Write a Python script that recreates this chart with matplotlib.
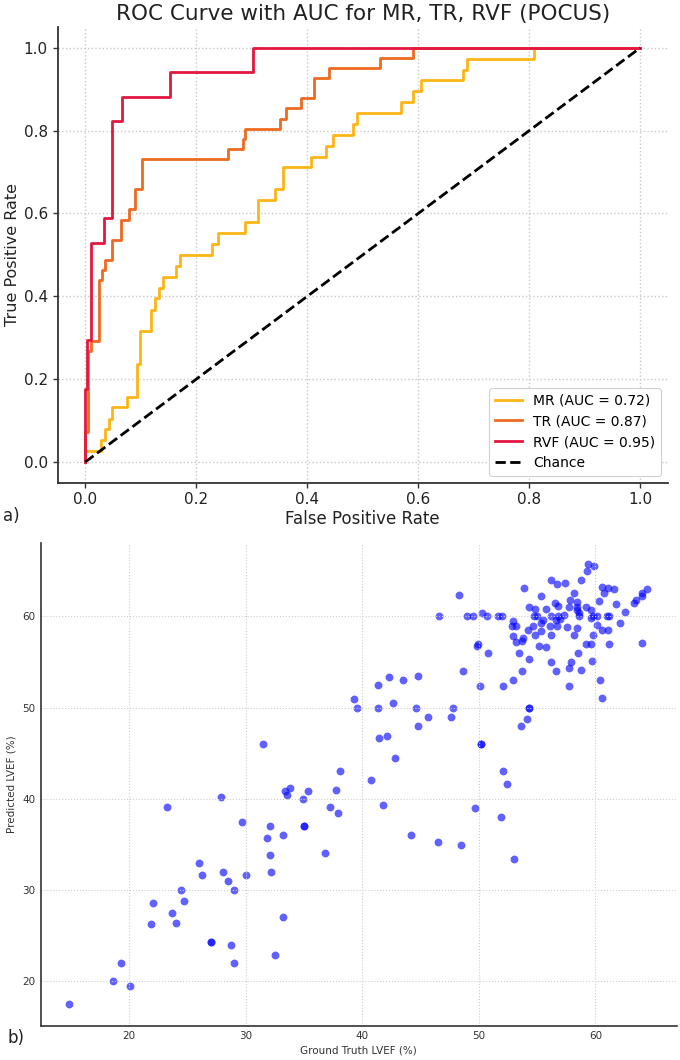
import numpy as np
import matplotlib.pyplot as plt

# ROC curves (corner points of the step curves)
mr_fpr = [0, 0, 0.028, 0.028, 0.036, 0.036, 0.043, 0.043, 0.048, 0.048, 0.076, 0.076,
          0.094, 0.094, 0.099, 0.099, 0.119, 0.119, 0.126, 0.126, 0.132, 0.132, 0.14, 0.14,
          0.164, 0.164, 0.17, 0.17, 0.229, 0.229, 0.24, 0.24, 0.287, 0.287, 0.311, 0.311,
          0.341, 0.341, 0.356, 0.356, 0.406, 0.406, 0.433, 0.433, 0.446, 0.446, 0.483, 0.483,
          0.489, 0.489, 0.568, 0.568, 0.591, 0.591, 0.605, 0.605, 0.681, 0.681, 0.688, 0.688,
          0.809, 0.809, 1.0]
mr_tpr = [0, 0.026, 0.026, 0.053, 0.053, 0.079, 0.079, 0.105, 0.105, 0.132, 0.132, 0.158,
          0.158, 0.237, 0.237, 0.316, 0.316, 0.368, 0.368, 0.395, 0.395, 0.421, 0.421, 0.447,
          0.447, 0.474, 0.474, 0.5, 0.5, 0.526, 0.526, 0.553, 0.553, 0.579, 0.579, 0.632,
          0.632, 0.658, 0.658, 0.711, 0.711, 0.737, 0.737, 0.763, 0.763, 0.789, 0.789, 0.816,
          0.816, 0.842, 0.842, 0.868, 0.868, 0.895, 0.895, 0.921, 0.921, 0.947, 0.947, 0.974,
          0.974, 1.0, 1.0]

tr_fpr = [0, 0, 0.005, 0.005, 0.01, 0.01, 0.025, 0.025, 0.031, 0.031, 0.036, 0.036,
          0.049, 0.049, 0.064, 0.064, 0.078, 0.078, 0.09, 0.09, 0.102, 0.102, 0.257, 0.257,
          0.284, 0.284, 0.287, 0.287, 0.35, 0.35, 0.362, 0.362, 0.388, 0.388, 0.413, 0.413,
          0.44, 0.44, 0.531, 0.531, 0.59, 0.59, 1.0]
tr_tpr = [0, 0.073, 0.073, 0.268, 0.268, 0.293, 0.293, 0.439, 0.439, 0.463, 0.463, 0.488,
          0.488, 0.537, 0.537, 0.585, 0.585, 0.61, 0.61, 0.659, 0.659, 0.732, 0.732, 0.756,
          0.756, 0.78, 0.78, 0.805, 0.805, 0.829, 0.829, 0.854, 0.854, 0.878, 0.878, 0.927,
          0.927, 0.951, 0.951, 0.976, 0.976, 1.0, 1.0]

rvf_fpr = [0, 0, 0.004, 0.004, 0.01, 0.01, 0.033, 0.033, 0.049, 0.049, 0.066, 0.066,
           0.152, 0.152, 0.303, 0.303, 1.0]
rvf_tpr = [0, 0.176, 0.176, 0.294, 0.294, 0.529, 0.529, 0.588, 0.588, 0.824, 0.824, 0.882,
           0.882, 0.941, 0.941, 1.0, 1.0]

roc_labels = ['MR (AUC = 0.72)', 'TR (AUC = 0.87)', 'RVF (AUC = 0.95)']
roc_colors = ['#FDB515', '#EE6A1F', '#E3173F']

# LVEF scatter: ground truth vs predicted
gt_lvef = [
    49.5, 50.3, 50.7, 51.6, 52.0, 53.9, 55.3, 56.2, 56.7, 57.4, 58.8, 59.4, 59.9, 59.3,
    60.6, 61.1, 61.6, 60.7, 60.3, 61.8, 62.5, 63.3, 63.5, 64.0, 64.0, 64.4, 64.0, 62.1,
    61.2, 61.0, 60.6, 61.1, 61.2, 60.1, 60.1, 59.8, 59.6, 59.6, 59.2, 59.8, 59.2, 59.6,
    59.7, 58.4, 58.4, 58.4, 58.2, 57.8, 57.7, 57.3, 56.8, 56.5, 55.8, 56.2, 56.8, 57.0,
    56.6, 56.7, 56.1, 55.5, 55.3, 55.0, 54.7, 54.3, 54.8, 58.6, 58.6, 57.6, 58.4, 58.2,
    56.2, 55.3, 54.6, 54.2, 54.8, 53.2, 52.8, 52.9, 52.9, 53.2, 53.7, 53.8, 55.2, 55.8,
    53.4, 54.3, 53.7, 52.9, 52.1, 50.1, 49.8, 49.9, 50.8, 56.2, 56.6, 57.9, 57.7, 58.5,
    58.8, 57.7, 60.4, 60.6,
    46.6, 48.3, 49.0, 48.6, 41.3, 42.3, 43.5, 44.8, 39.3, 39.5, 41.3, 42.6, 44.6, 45.6,
    44.8, 47.8, 47.6, 41.4, 42.1, 42.8, 50.2, 50.2, 52.1, 54.3, 54.3, 54.1, 53.6, 38.1,
    40.7, 31.5,
    14.8, 18.6, 19.3, 20.1, 21.9, 22.0, 23.2, 23.7, 24.0, 24.4, 24.7, 26.0, 26.2, 27.0,
    27.0, 27.9, 28.0, 28.5, 28.7, 29.0, 29.0, 29.7, 30.0, 31.8, 32.1, 32.1, 32.2, 32.5,
    33.2, 33.2, 33.4, 33.5, 33.8, 34.9, 35.0, 35.0, 35.3, 36.8, 37.2, 37.7, 37.9,
    41.8, 44.2, 46.5, 48.5, 49.7, 51.9, 52.4, 53.0,
]
pred_lvef = [
    60.0, 60.4, 60.0, 60.0, 60.0, 63.1, 62.2, 64.0, 63.6, 63.7, 64.0, 65.7, 65.5, 65.0,
    63.2, 63.1, 63.0, 62.6, 61.7, 61.4, 60.5, 61.5, 61.8, 62.2, 62.6, 63.0, 57.1, 59.3,
    60.1, 60.0, 58.5, 58.5, 57.0, 59.1, 60.0, 60.0, 59.8, 60.7, 61.0, 58.0, 57.0, 57.0,
    55.1, 61.6, 61.0, 60.7, 62.6, 61.8, 61.0, 60.2, 61.1, 61.5, 60.8, 60.1, 60.0, 59.7,
    59.6, 59.0, 59.0, 59.6, 59.3, 60.0, 60.0, 61.0, 60.8, 60.0, 60.4, 58.8, 58.7, 58.0,
    58.0, 58.4, 58.9, 58.5, 58.0, 59.0, 59.0, 59.5, 57.8, 57.2, 57.3, 57.6, 56.8, 56.7,
    56.0, 55.3, 54.0, 53.0, 52.4, 52.4, 56.8, 57.0, 56.0, 55.0, 54.0, 55.0, 54.3, 56.0,
    54.1, 52.4, 53.0, 51.1,
    60.0, 62.3, 60.0, 54.0, 52.5, 53.4, 53.0, 53.5, 50.9, 50.0, 49.9, 50.5, 50.0, 49.0,
    48.0, 50.0, 49.0, 46.7, 46.9, 44.5, 46.0, 46.0, 43.0, 50.0, 50.0, 48.8, 48.0, 43.0,
    42.1, 46.0,
    17.5, 20.0, 22.0, 19.5, 26.3, 28.6, 39.1, 27.5, 26.4, 30.0, 28.8, 33.0, 31.6, 24.3,
    24.3, 40.2, 32.0, 31.0, 24.0, 30.0, 22.0, 37.5, 31.6, 35.7, 37.0, 33.8, 32.0, 22.9,
    36.0, 27.0, 40.9, 40.4, 41.2, 40.0, 37.0, 37.0, 40.8, 34.0, 39.1, 41.0, 38.4,
    39.3, 36.0, 35.3, 34.9, 39.0, 38.0, 41.6, 33.4,
]

fig = plt.figure(figsize=(6.8, 10.6), dpi=100)

# ---- a) ROC curves ----
ax1 = fig.add_axes([0.0846, 0.5446, 0.8978, 0.4299])
for fpr, tpr, lab, col in zip([mr_fpr, tr_fpr, rvf_fpr], [mr_tpr, tr_tpr, rvf_tpr],
                              roc_labels, roc_colors):
    ax1.plot(fpr, tpr, color=col, lw=2, label=lab)
ax1.plot([0, 1], [0, 1], 'k--', lw=2, label='Chance')
ax1.set_xlim(-0.05, 1.05)
ax1.set_ylim(-0.05, 1.05)
ax1.set_xticks([0, 0.2, 0.4, 0.6, 0.8, 1.0])
ax1.set_yticks([0, 0.2, 0.4, 0.6, 0.8, 1.0])
ax1.set_title('ROC Curve with AUC for MR, TR, RVF (POCUS)', fontsize=15.5, pad=5, color='#222222')
ax1.set_xlabel('False Positive Rate', fontsize=12, color='#222222')
ax1.set_ylabel('True Positive Rate', fontsize=11.5, color='#222222')
ax1.xaxis.set_label_coords(0.5, -0.06)
ax1.yaxis.set_label_coords(-0.062, 0.5)
ax1.tick_params(labelsize=11, length=3.5, width=1, colors='#333333', labelcolor='#222222')
ax1.grid(True, linestyle=':', color='#c8c8c8', lw=1)
for s in ['top', 'right']:
    ax1.spines[s].set_visible(False)
for s in ['left', 'bottom']:
    ax1.spines[s].set_color('#333333')
    ax1.spines[s].set_linewidth(1.3)
leg = ax1.legend(loc='lower right', fontsize=10, framealpha=1, edgecolor='#d0d0d0')
leg.get_frame().set_linewidth(0.8)

# ---- b) LVEF scatter ----
ax2 = fig.add_axes([0.0599, 0.0324, 0.9357, 0.4557])
ax2.scatter(gt_lvef, pred_lvef, s=32, color='blue', alpha=0.62, linewidths=0)
ax2.set_xlim(12.4, 67.0)
ax2.set_ylim(15.1, 68.1)
ax2.set_xticks([20, 30, 40, 50, 60])
ax2.set_yticks([20, 30, 40, 50, 60])
ax2.set_xlabel('Ground Truth LVEF (%)', fontsize=7.5, color='#333333', labelpad=3)
ax2.set_ylabel('Predicted LVEF (%)', fontsize=7.5, color='#333333', labelpad=4)
ax2.tick_params(labelsize=7.5, length=0, pad=4, labelcolor='#333333')
ax2.grid(True, linestyle=':', color='#cccccc', lw=0.8)
for s in ['top', 'right']:
    ax2.spines[s].set_visible(False)
for s in ['left', 'bottom']:
    ax2.spines[s].set_color('#333333')
    ax2.spines[s].set_linewidth(1.2)

fig.text(0.004, 0.513, 'a)', fontsize=12, color='#222222', va='center')
fig.text(0.011, 0.021, 'b)', fontsize=12, color='#222222', va='center')

fig.savefig('out.png', dpi=100)
